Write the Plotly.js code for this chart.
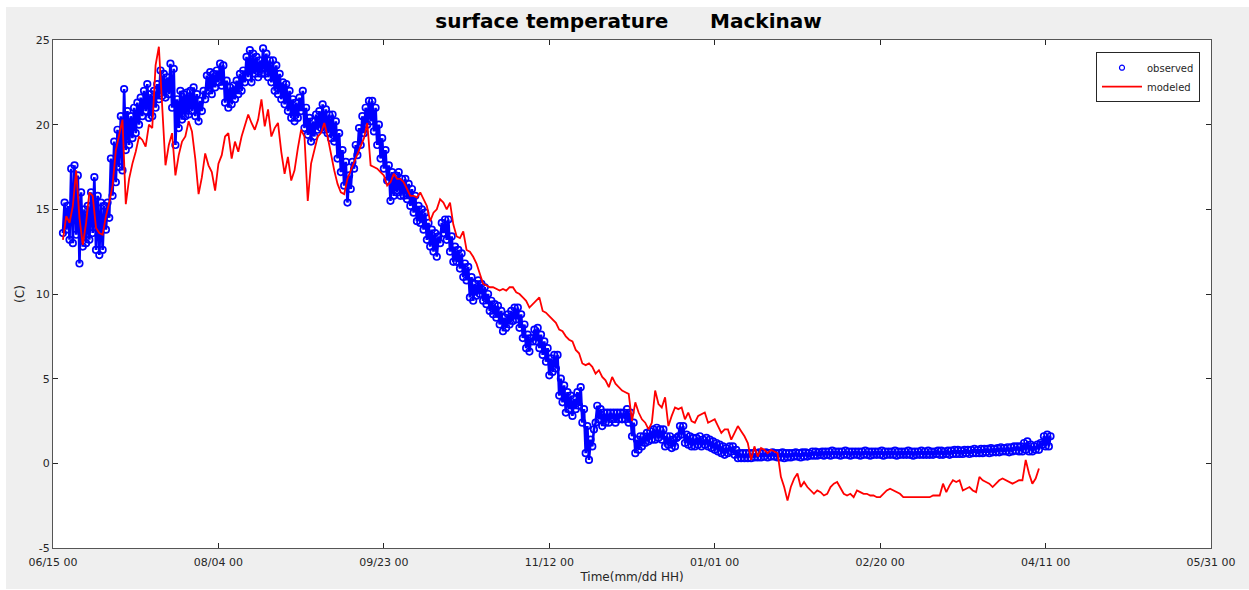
<!DOCTYPE html>
<html>
<head>
<meta charset="utf-8">
<script src="https://cdn.plot.ly/plotly-3.0.1.min.js"></script>
<style>
html,body{margin:0;padding:0;background:#ffffff;}
#plot{position:absolute;left:6px;top:7px;width:1243px;height:582px;}
</style>
</head>
<body>
<div id="plot"></div>
<script>
// x axis: days since 06/15 00
const tickDays = [0, 50, 100, 150, 200, 250, 300, 350];
const tickLabels = ["06/15 00", "08/04 00", "09/23 00", "11/12 00", "01/01 00", "02/20 00", "04/11 00", "05/31 00"];
const yTicks = [-5, 0, 5, 10, 15, 20, 25];
const yTickLabels = ["-5", "0", "5", "10", "15", "20", "25"];

// observed: daily low / high of the sampled band, starting at day 3
const obsStartDay = 3;
const obsLo = [
13.6,13.8,13.2,13.0,13.5,11.8,12.8,13.0,13.2,13.6,
12.6,12.3,12.6,13.8,14.5,15.8,16.6,17.5,17.3,18.5,
18.8,19.2,19.5,20.0,20.5,20.8,20.4,20.5,21.0,21.5,
21.7,21.6,21.8,21.0,18.8,19.8,20.3,20.5,20.6,20.8,
20.5,20.2,20.8,21.5,22.0,21.8,22.2,22.5,22.3,21.3,
21.0,21.2,21.5,21.8,22.0,22.5,22.8,22.5,23.0,22.8,
23.0,23.0,22.8,22.5,22.0,21.8,21.5,21.2,20.8,20.4,
20.2,20.4,20.8,19.8,19.4,19.0,19.3,19.7,19.8,19.7,
19.5,19.2,19.0,18.0,17.2,16.4,15.4,16.2,17.4,18.2,
18.8,19.5,20.0,20.2,19.6,18.8,18.0,17.4,16.7,15.5,
15.8,16.0,15.8,15.8,15.6,15.2,14.8,14.3,14.2,13.8,
13.2,12.8,12.5,12.2,13.0,13.6,13.2,12.5,11.9,11.9,
11.5,11.0,10.8,9.8,9.6,9.9,10.0,9.6,9.4,9.0,
8.8,8.6,8.2,7.8,8.0,8.2,8.4,8.5,8.0,7.4,
6.8,6.6,7.2,7.2,6.8,6.4,6.0,5.2,5.4,5.6,
4.0,3.6,3.0,3.2,2.8,3.2,3.4,2.4,0.6,0.2,
1.0,2.4,2.6,2.2,2.4,2.4,2.6,2.4,2.6,2.6,
2.6,2.4,1.6,0.6,0.8,1.0,1.2,1.3,1.4,1.4,
1.5,1.4,1.0,1.1,0.9,1.0,1.6,1.7,1.2,1.1,
1.0,1.0,1.1,1.0,1.1,1.0,0.9,0.8,0.7,0.6,
0.5,0.6,0.7,0.5,0.3,0.3,0.3,0.3,0.3,0.35,
0.35,0.35,0.4,0.35,0.4,0.4,0.35,0.35,0.3,0.35,
0.35,0.4,0.4,0.35,0.4,0.4,0.45,0.45,0.45,0.5,
0.45,0.5,0.45,0.5,0.5,0.45,0.5,0.5,0.45,0.5,
0.5,0.45,0.5,0.5,0.45,0.5,0.5,0.5,0.45,0.5,
0.5,0.5,0.45,0.5,0.5,0.5,0.5,0.45,0.5,0.5,
0.5,0.5,0.5,0.5,0.55,0.5,0.5,0.55,0.5,0.55,
0.55,0.55,0.55,0.6,0.55,0.6,0.6,0.6,0.6,0.65,
0.6,0.65,0.65,0.65,0.7,0.7,0.65,0.7,0.75,0.7,
0.7,0.8,0.7,0.7,0.8,0.8,1.1,1.0,1.0
];
const obsHi = [
15.4,15.2,17.4,17.6,17.0,16.0,15.0,15.2,16.0,16.9,
15.8,15.4,15.2,15.4,18.0,19.0,19.7,20.5,22.1,20.8,
20.5,21.0,21.3,21.6,22.0,22.4,21.8,22.0,22.4,23.2,
23.0,22.8,23.6,23.3,21.5,22.0,21.8,21.9,22.0,22.2,
21.8,21.4,22.0,22.9,23.1,23.0,23.2,23.6,23.5,22.6,
22.2,22.3,22.6,23.0,23.2,24.0,24.4,24.2,24.0,23.8,
24.5,24.2,23.8,23.8,23.5,23.0,22.5,22.4,22.0,21.5,
21.3,21.6,22.0,21.0,20.4,20.2,20.6,20.8,21.2,20.9,
20.6,20.6,20.2,19.5,18.5,17.8,17.0,17.8,18.8,19.8,
20.5,21.0,21.4,21.4,21.0,20.0,19.2,18.5,17.6,17.2,
17.0,17.2,16.8,16.8,16.5,16.2,15.8,15.2,15.0,14.8,
14.2,13.8,13.6,13.4,14.2,14.4,14.4,13.4,12.8,12.6,
12.4,11.8,11.6,11.0,10.6,10.8,10.6,10.4,10.0,9.6,
9.4,9.3,9.0,8.6,8.8,9.0,9.2,9.2,8.8,8.2,
7.6,7.4,7.9,8.0,7.6,7.2,6.8,6.2,6.4,6.4,
5.0,4.6,4.2,4.0,3.8,4.2,4.5,3.2,2.2,1.4,
2.0,3.4,3.2,3.0,3.0,3.0,3.0,3.0,3.0,3.0,
3.2,3.0,2.4,1.4,1.6,1.6,1.8,1.9,2.0,2.1,
2.0,2.0,1.6,1.6,1.4,1.5,2.2,2.2,1.7,1.6,
1.5,1.5,1.6,1.4,1.5,1.4,1.3,1.2,1.1,1.0,
0.9,1.0,1.0,0.8,0.6,0.6,0.6,0.6,0.6,0.6,
0.65,0.6,0.65,0.6,0.65,0.6,0.6,0.65,0.6,0.6,
0.6,0.65,0.6,0.65,0.65,0.6,0.7,0.7,0.65,0.7,
0.7,0.7,0.75,0.7,0.7,0.7,0.75,0.7,0.7,0.7,
0.7,0.7,0.75,0.7,0.7,0.7,0.7,0.75,0.7,0.7,
0.7,0.75,0.7,0.7,0.7,0.75,0.7,0.7,0.7,0.75,
0.7,0.75,0.7,0.7,0.75,0.75,0.7,0.75,0.75,0.8,
0.8,0.75,0.8,0.8,0.8,0.85,0.8,0.85,0.85,0.85,
0.9,0.85,0.9,0.95,0.9,0.95,0.95,1.0,1.0,1.0,
1.2,1.3,1.1,1.0,1.1,1.2,1.6,1.7,1.6
];

// modeled: daily values starting at day 3
const modStartDay = 3;
const modeled = [
13.2,14.6,14.2,15.2,17.3,14.5,12.9,14.2,16.0,15.8,
13.9,13.6,13.5,14.6,15.4,16.4,18.5,19.4,20.3,15.3,
16.8,17.7,18.4,19.3,19.1,18.7,20.0,19.8,23.5,24.6,
21.0,17.6,18.8,19.5,17.0,18.2,19.0,19.3,20.2,19.6,
18.0,15.9,16.9,18.3,17.6,17.2,16.1,17.7,18.2,19.3,
19.5,18.0,19.0,18.4,19.3,19.9,20.6,20.1,19.7,20.3,
21.5,19.9,20.9,19.3,19.8,20.1,18.4,17.1,18.1,16.7,
17.3,18.6,19.7,19.3,15.5,17.7,18.5,19.3,19.5,20.1,
19.3,18.2,17.3,16.5,16.0,15.9,16.8,17.3,17.8,18.2,
18.7,19.2,20.1,17.6,17.5,17.4,17.2,17.0,16.4,16.6,
17.1,16.8,16.8,16.6,16.2,15.8,15.8,15.7,16.0,15.6,
15.2,14.3,14.8,15.0,15.6,15.4,15.0,15.4,14.1,13.4,
13.3,13.7,12.6,12.5,12.2,11.8,11.2,10.6,10.5,10.4,
10.4,10.3,10.2,10.3,10.2,10.4,10.4,10.1,10.0,9.8,
9.6,9.2,9.4,9.6,9.8,9.0,8.9,8.7,8.5,8.3,
7.9,7.8,7.5,7.3,7.2,6.7,6.5,5.9,5.8,5.9,
5.7,5.3,5.5,5.1,4.9,4.5,5.1,4.7,4.5,4.3,
4.2,4.1,2.5,3.6,3.0,2.6,2.4,2.0,2.4,4.3,
3.5,3.3,3.9,2.2,2.8,3.3,3.2,3.3,2.6,3.0,
2.5,2.4,2.8,2.9,3.0,2.4,2.5,2.6,2.2,1.8,
2.0,2.0,1.4,1.8,2.2,1.9,1.6,1.2,0.2,1.0,
0.4,0.9,0.8,0.6,0.8,0.7,0.6,-0.8,-1.4,-2.2,
-1.4,-0.9,-0.6,-1.4,-1.1,-1.4,-1.6,-1.8,-1.6,-1.7,
-1.9,-1.8,-1.4,-1.2,-1.1,-1.5,-1.8,-1.9,-1.8,-2.0,
-1.6,-1.7,-1.8,-1.8,-1.9,-1.9,-2.0,-2.0,-1.8,-1.6,
-1.5,-1.6,-1.7,-1.8,-2.0,-2.0,-2.0,-2.0,-2.0,-2.0,
-2.0,-2.0,-2.0,-1.9,-1.9,-1.9,-1.2,-1.7,-1.3,-1.0,
-1.1,-1.0,-1.6,-1.5,-1.4,-1.6,-1.7,-0.8,-1.0,-1.1,
-1.2,-1.4,-1.2,-1.0,-0.9,-1.0,-1.1,-1.2,-1.1,-1.0,
-1.0,0.2,-0.6,-1.2,-0.9,-0.3
];

// build observed zigzag (low sample then high sample each day)
const obsX = [], obsY = [];
for (let i = 0; i < obsLo.length; i++) {
  const d = obsStartDay + i;
  obsX.push(d);       obsY.push(obsLo[i]);
  obsX.push(d + 0.5); obsY.push(obsHi[i]);
}
const modX = modeled.map((v, i) => modStartDay + i);

const FONT = "DejaVu Sans, Liberation Sans, sans-serif";
const AX = "#262626";

const traces = [
  {
    x: obsX, y: obsY, type: "scatter", mode: "lines+markers",
    line: {color: "#0000ff", width: 2.6},
    marker: {symbol: "circle-open", size: 6.5, color: "#0000ff", line: {width: 1.7, color: "#0000ff"}},
    showlegend: false, hoverinfo: "skip"
  },
  {
    x: [null], y: [null], type: "scatter", mode: "markers", name: "observed",
    marker: {symbol: "circle-open", size: 5, color: "#0000ff", line: {width: 1.2, color: "#0000ff"}}
  },
  {
    x: modX, y: modeled, type: "scatter", mode: "lines", name: "modeled",
    line: {color: "#ff0000", width: 1.8}
  }
];

const layout = {
  width: 1243, height: 582,
  margin: {l: 47, r: 38, t: 33, b: 41},
  paper_bgcolor: "#efefef",
  plot_bgcolor: "#ffffff",
  font: {family: FONT, size: 11, color: AX},
  title: {
    text: "<b>surface temperature&nbsp;&nbsp;&nbsp;&nbsp;&nbsp;&nbsp;Mackinaw</b>",
    font: {family: FONT, size: 20, color: "#000000"},
    x: 0.497, xanchor: "center", xref: "paper",
    y: 0.976, yanchor: "middle", yref: "container"
  },
  xaxis: {
    range: [0, 350], tickmode: "array", tickvals: tickDays, ticktext: tickLabels,
    ticks: "inside", ticklen: 5, tickwidth: 1, tickcolor: AX,
    showline: true, linecolor: "#555555", linewidth: 1, mirror: "ticks",
    showgrid: false, zeroline: false, ticklabelstandoff: 4,
    tickfont: {family: FONT, size: 11, color: AX},
    title: {text: "Time(mm/dd HH)", font: {family: FONT, size: 12, color: AX}, standoff: 4}
  },
  yaxis: {
    range: [-5, 25], tickmode: "array", tickvals: yTicks, ticktext: yTickLabels,
    ticks: "inside", ticklen: 5, tickwidth: 1, tickcolor: AX,
    showline: true, linecolor: "#555555", linewidth: 1, mirror: "ticks",
    showgrid: false, zeroline: false,
    tickfont: {family: FONT, size: 11, color: AX},
    title: {text: "(C)", font: {family: FONT, size: 12, color: AX}, standoff: 8}
  },
  legend: {
    x: 0.9905, xanchor: "right", y: 0.976, yanchor: "top",
    bgcolor: "#ffffff", bordercolor: "#262626", borderwidth: 1,
    font: {family: FONT, size: 10, color: AX},
    tracegroupgap: 0, itemwidth: 40
  },
  showlegend: true
};

Plotly.newPlot("plot", traces, layout, {displayModeBar: false, staticPlot: true});
</script>
</body>
</html>
